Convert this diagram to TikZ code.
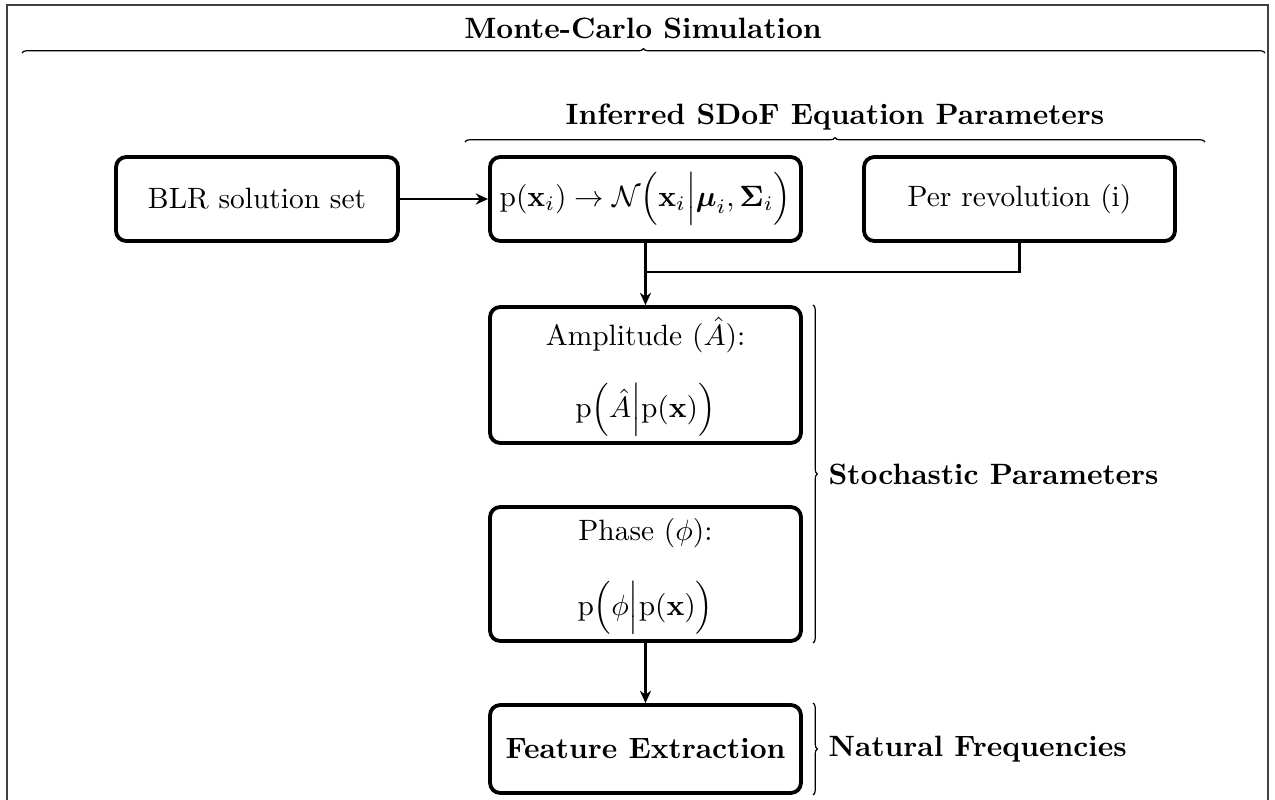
\documentclass[tikz,border=0pt]{standalone}
\usepackage{amsmath,amssymb}
\usetikzlibrary{arrows.meta,decorations.pathreplacing,calc}
\begin{document}
\begin{tikzpicture}[x=0.34pt,y=-0.34pt,
  box/.style={draw,line width=1.3pt,rounded corners=3.5pt,inner sep=0pt,
    minimum width={311*0.34pt},minimum height={84*0.34pt}},
  conn/.style={line width=0.75pt,-{Stealth[length=4.2pt,width=3.8pt]}},
  wire/.style={line width=0.75pt},
  brc/.style={decorate,decoration={brace,amplitude=1.5pt},line width=0.4pt},
  ttl/.style={font=\bfseries,inner sep=0pt}]
\useasboundingbox (0,0) rectangle (1275,800);
\draw[black!75,line width=0.5pt] (7,5) rectangle (1268,830);

% titles and top braces
\node[ttl] (mc) at (643,28) {Monte-Carlo Simulation};
\draw[brc] (22,53) -- (1265,53);
\node[ttl] (inf) at (835,117) {Inferred SDoF Equation Parameters};
\draw[brc] (465,142) -- (1205,142);

% top row
\node[box,minimum width={282*0.34pt}] (blr) at (257,199) {BLR solution set};
\node[box] (nrm) at (645.5,199) {$\mathrm{p}(\mathbf{x}_i) \rightarrow \mathcal{N}\Bigl(\mathbf{x}_i \Big| \boldsymbol{\mu}_i, \boldsymbol{\Sigma}_i\Bigr)$};
\node[box] (per) at (1019.5,199) {Per revolution (i)};

% stochastic boxes
\node[box,minimum height={136*0.34pt}] (amp) at (645.5,375) {};
\node[inner sep=0pt] (ampt) at (645.5,335) {Amplitude ($\hat{A}$):};
\node[inner sep=0pt] (ampf) at (645.5,410) {$\mathrm{p}\Bigl(\hat{A}\Big|\mathrm{p}(\mathbf{x})\Bigr)$};
\node[box,minimum height={134*0.34pt}] (pha) at (645.5,574) {};
\node[inner sep=0pt] (phat) at (645.5,533) {Phase ($\phi$):};
\node[inner sep=0pt] (phaf) at (645.5,608) {$\mathrm{p}\Bigl(\phi\Big|\mathrm{p}(\mathbf{x})\Bigr)$};

% feature extraction
\node[box,minimum height={88*0.34pt},font=\bfseries] (fea) at (645.5,749) {Feature Extraction};

% connectors
\coordinate (j) at (645.5,272);
\draw[conn] (blr.east) -- (nrm.west);
\draw[conn] (nrm.south) -- (amp.north);
\draw[wire] (per.south) |- (j);
\draw[conn] (pha.south) -- (fea.north);

% right braces
\draw[brc] (813,305) -- (813,643);
\node[ttl,anchor=west] (sto) at (828,474) {Stochastic Parameters};
\draw[brc] (813,703) -- (813,795);
\node[ttl,anchor=west] (nat) at (828,749) {Natural Frequencies};
\end{tikzpicture}
\end{document}
